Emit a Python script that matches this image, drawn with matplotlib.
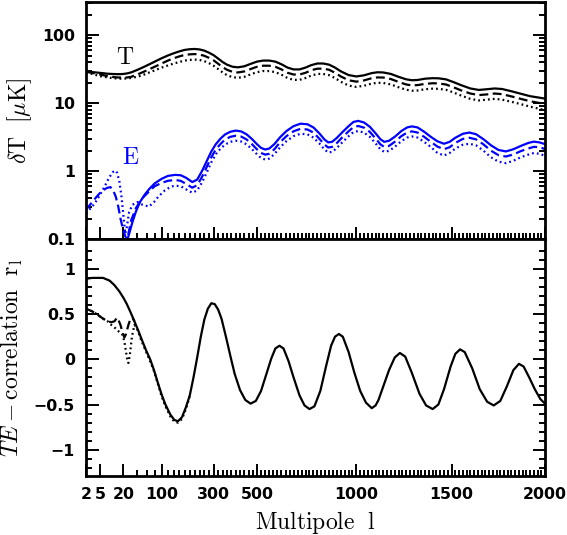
import numpy as np
import matplotlib
matplotlib.use('Agg')
import matplotlib.pyplot as plt

plt.rcParams['mathtext.fontset'] = 'cm'

# ---- data (multipole l, value) ----
# top panel: temperature (black), delta T in muK
T_l = [2, 3, 5, 8, 12, 16, 20, 25, 30, 40, 50, 60, 80, 100, 120, 140, 160, 180, 200, 220,
       240, 260, 280, 300, 320, 340, 360, 385, 410, 440, 470, 500, 530, 560, 590, 620, 650, 680,
       710, 740, 770, 800, 830, 860, 890, 920, 960, 1000, 1040, 1080, 1110, 1140, 1180, 1220, 1260,
       1290, 1320, 1360, 1400, 1430, 1470, 1510, 1550, 1600, 1645, 1690, 1730, 1770, 1820, 1870,
       1920, 1960, 2000]
T_solid = [29.5, 28.8, 28, 27.2, 26.9, 26.8, 27, 27.6, 28.5, 31, 33.5, 36, 41, 46, 50.5, 54.5, 58, 61, 62.5, 63,
           62, 59.5, 55.5, 51, 45.5, 40.5, 37, 34.5, 33.8, 35, 38, 41, 42.5, 42.5, 41, 37.5, 33.5, 31.5,
           31.5, 33.5, 36.5, 38.5, 38.5, 37, 33.5, 29.5, 26, 24.8, 25.8, 27.8, 28.6, 28.4, 27, 24.5, 22.5,
           21.8, 22, 23, 23.4, 23.3, 22.5, 20.5, 18.5, 16.5, 15.7, 16.1, 16.5, 16.2, 15, 13.8,
           12.7, 12.2, 11.7]
T_dash = [29, 28, 26.5, 25, 24.2, 23.9, 23.8, 24, 24.5, 26.5, 28.5, 30.5, 34.5, 38.5, 42.5, 46, 49, 51.5, 52.5, 53,
          52.1, 50.0, 46.6, 42.8, 38.2, 34.0, 31.1, 29.0, 28.4, 29.4, 31.9, 34.4, 35.7, 35.7, 34.4, 31.5, 28.1, 26.5,
          26.5, 28.1, 30.7, 32.3, 32.3, 31.1, 28.1, 24.8, 21.8, 20.8, 21.7, 23.4, 24.0, 23.9, 22.7, 20.6, 18.9,
          18.3, 18.5, 19.3, 19.7, 19.6, 18.9, 17.2, 15.5, 13.9, 13.2, 13.5, 13.9, 13.6, 12.6, 11.6,
          10.7, 10.2, 9.8]
T_dot = [28.5, 27, 25, 24, 23.3, 23, 23, 23.2, 23.6, 24.5, 25.8, 27.5, 30.5, 33.5, 36, 38.5, 40.5, 42.5, 43.5, 44,
         43.4, 41.7, 38.9, 35.7, 31.9, 28.4, 25.9, 24.2, 23.7, 24.5, 26.6, 28.7, 29.8, 29.8, 28.7, 26.3, 23.5, 22.1,
         22.1, 23.5, 25.6, 27.0, 27.0, 25.9, 23.5, 20.7, 18.2, 17.4, 18.1, 19.5, 20.0, 19.9, 18.9, 17.2, 15.8,
         15.3, 15.4, 16.1, 16.4, 16.3, 15.8, 14.4, 13.0, 11.6, 11.0, 11.3, 11.6, 11.3, 10.5, 9.7,
         8.9, 8.4, 7.9]

# top panel: E polarisation (blue), acoustic part from l = 145
E_l = [145, 165, 185, 210, 230, 250, 270, 290, 310, 330, 350, 375, 400, 425, 450, 475, 500, 520, 540, 560,
       585, 615, 645, 680, 715, 750, 780, 810, 835, 855, 875, 900, 930, 960, 985, 1010, 1040, 1070, 1100,
       1125, 1145, 1170, 1200, 1235, 1265, 1290, 1320, 1355, 1390, 1425, 1460, 1490, 1520, 1560, 1595,
       1630, 1670, 1710, 1750, 1790, 1830, 1870, 1910, 1940, 1970, 2000]
E_solid = [0.88, 0.87, 0.8, 0.69, 0.75, 1.0, 1.4, 1.95, 2.5, 3.0, 3.45, 3.8, 3.95, 3.85, 3.5, 3.0, 2.5, 2.2, 2.08, 2.15,
           2.5, 3.2, 3.9, 4.6, 5.0, 4.9, 4.4, 3.6, 2.95, 2.65, 2.7, 3.1, 3.8, 4.6, 5.3, 5.5, 5.2, 4.5, 3.6,
           2.95, 2.7, 2.8, 3.2, 3.9, 4.4, 4.56, 4.4, 3.8, 3.2, 2.75, 2.53, 2.7, 3.1, 3.55, 3.7,
           3.5, 2.95, 2.4, 2.05, 1.95, 2.1, 2.35, 2.6, 2.72, 2.65, 2.5]
E_dash = [0.74, 0.72, 0.65, 0.57, 0.62, 0.82, 1.15, 1.6, 2.1, 2.5, 2.9, 3.2, 3.32, 3.23, 2.94, 2.52, 2.1, 1.85, 1.75, 1.8,
          2.1, 2.7, 3.28, 3.86, 4.2, 4.1, 3.7, 3.0, 2.48, 2.23, 2.27, 2.6, 3.2, 3.86, 4.45, 4.62, 4.37, 3.78, 3.02,
          2.48, 2.27, 2.35, 2.7, 3.28, 3.7, 3.85, 3.7, 3.2, 2.7, 2.3, 2.1, 2.25, 2.6, 2.98, 3.1,
          2.94, 2.48, 2.0, 1.72, 1.64, 1.76, 1.97, 2.15, 2.28, 2.25, 2.12]
E_dot = [0.61, 0.6, 0.54, 0.48, 0.52, 0.68, 0.95, 1.35, 1.78, 2.13, 2.45, 2.7, 2.8, 2.73, 2.49, 2.13, 1.78, 1.56, 1.48, 1.53,
         1.78, 2.27, 2.77, 3.27, 3.55, 3.48, 3.12, 2.56, 2.1, 1.88, 1.92, 2.2, 2.7, 3.27, 3.76, 3.9, 3.69, 3.2, 2.56,
         2.1, 1.92, 1.99, 2.27, 2.77, 3.12, 3.24, 3.12, 2.7, 2.27, 1.85, 1.7, 1.85, 2.15, 2.45, 2.53,
         2.4, 2.0, 1.6, 1.38, 1.31, 1.42, 1.6, 1.75, 1.85, 1.8, 1.68]
# low-l parts of the E curves (reionisation bump), ending at l = 145
E_solid_low_l = [25, 28, 32, 38, 45, 55, 65, 80, 100, 120, 145]
E_solid_low = [0.1, 0.13, 0.18, 0.26, 0.35, 0.45, 0.54, 0.66, 0.77, 0.85, 0.88]
E_dash_low_l = [2, 3, 4, 5, 6, 7, 8, 9.5, 11, 13, 15, 17, 19, 20, 22, 24, 26, 30, 38, 50, 65, 80, 100,
                120, 145]
E_dash_low = [0.27, 0.35, 0.42, 0.48, 0.52, 0.55, 0.57, 0.58, 0.53, 0.42, 0.3, 0.2, 0.15, 0.137, 0.11, 0.1,
              0.12, 0.19, 0.29, 0.4, 0.5, 0.6, 0.67, 0.72, 0.74]
E_dot_low_l = [2, 3, 4, 5, 6, 7, 8, 9, 10, 11, 12.5, 14, 16, 18, 20, 22, 24, 27, 32, 40, 50, 65, 78,
               90, 110, 130, 145]
E_dot_low = [0.24, 0.3, 0.37, 0.45, 0.54, 0.63, 0.73, 0.82, 0.9, 0.97, 1.02, 0.95, 0.7, 0.42, 0.22, 0.12,
             0.15, 0.25, 0.32, 0.35, 0.32, 0.3, 0.35, 0.42, 0.52, 0.59, 0.61]

# bottom panel: TE correlation coefficient r_l
r_l = [2, 3, 4, 6, 9, 12, 16, 20, 24, 29, 35, 43, 50, 58, 68, 78, 88, 100, 112, 128, 142, 155, 170, 185,
       200, 215, 230, 245, 260, 275, 290, 305, 320, 335, 355, 375, 395, 420, 445, 470, 495, 520, 545, 570,
       590, 610, 630, 655, 680, 710, 735, 760, 785, 815, 845, 870, 890, 910, 930, 960, 990, 1020, 1050,
       1080, 1100, 1115, 1140, 1170, 1200, 1227, 1255, 1290, 1330, 1365, 1400, 1430, 1460, 1495, 1520,
       1545, 1570, 1610, 1650, 1690, 1725, 1760, 1795, 1830, 1860, 1885, 1915, 1945, 1975, 2000]
r_solid = [0.89, 0.9, 0.9, 0.9, 0.87, 0.82, 0.75, 0.68, 0.61, 0.52, 0.42, 0.3, 0.2, 0.1, 0.0, -0.12, -0.25, -0.39,
           -0.5, -0.61, -0.67, -0.685, -0.64, -0.53, -0.4, -0.2, 0.02, 0.25, 0.44, 0.56, 0.62, 0.61, 0.55,
           0.45, 0.25, 0.04, -0.16, -0.34, -0.45, -0.49, -0.46, -0.35, -0.17, 0.01, 0.12, 0.15, 0.12, -0.02,
           -0.2, -0.4, -0.51, -0.55, -0.52, -0.35, -0.07, 0.15, 0.25, 0.28, 0.25, 0.08, -0.15, -0.35, -0.48,
           -0.54, -0.51, -0.45, -0.3, -0.12, 0.02, 0.07, 0.03, -0.15, -0.38, -0.51, -0.55, -0.5, -0.33, -0.08,
           0.06, 0.11, 0.08, -0.1, -0.33, -0.47, -0.51, -0.46, -0.3, -0.12, -0.05, -0.08, -0.2, -0.33, -0.44,
           -0.49]
r_dash_l = [2, 3, 4, 6, 8, 10, 12, 14, 15, 17, 19, 21, 23, 26, 29, 32, 35]
r_dash = [0.56, 0.53, 0.5, 0.45, 0.42, 0.41, 0.42, 0.46, 0.44, 0.38, 0.3, 0.24, 0.28, 0.38, 0.45, 0.46, 0.42]
r_dot_l = [2, 3, 4, 6, 8, 10, 13, 16, 19, 21, 23, 25, 26, 28, 31, 35, 40, 47, 55, 65, 78, 88, 100, 112,
           128, 142, 155, 170, 185, 200]
r_dot = [0.56, 0.53, 0.5, 0.45, 0.42, 0.38, 0.34, 0.3, 0.27, 0.2, 0.08, -0.03, -0.04, 0.05, 0.25, 0.38, 0.33,
         0.22, 0.12, 0.01, -0.13, -0.26, -0.41, -0.52, -0.63, -0.69, -0.7, -0.66, -0.55, -0.41]

x_major = [2, 5, 20, 100, 300, 500, 1000, 1500, 2000]
x_minor = [l for l in range(40, 2000, 20) if l not in x_major]
r_ticks = [-1, -0.5, 0, 0.5, 1]
r_labels = ['\u22121', '\u22120.5', '0', '0.5', '1']
dT_ticks = [0.1, 1, 10, 100]
dT_labels = ['0.1', '1', '10', '100']


# mixed log / linear multipole axis
def fwd(l):
    l = np.maximum(np.asarray(l, dtype=float), 1e-3)
    return np.log(l) + 0.012 * l

_grid = np.logspace(-3, 4, 20000)


def inv(x):
    return np.interp(x, fwd(_grid), _grid)


tickfont = dict(family='DejaVu Sans', weight='bold', size=11.3)
blue = '#0000ff'
lw = 1.6
dash = (0, (4, 2))
dot = (0, (0.8, 1.4))

fig = plt.figure(figsize=(5.67, 5.35), dpi=100)
ax1 = fig.add_axes([86 / 567, 1 - 239 / 535, 459 / 567, 237 / 535])
ax2 = fig.add_axes([86 / 567, 1 - 476 / 535, 459 / 567, 237 / 535])

ax1.plot(T_l, T_solid, color='k', lw=lw)
ax1.plot(T_l, T_dash, color='k', lw=lw, linestyle=dash)
ax1.plot(T_l, T_dot, color='k', lw=lw, linestyle=dot)
ax1.plot(E_solid_low_l + E_l[1:], E_solid_low + E_solid[1:], color=blue, lw=lw)
ax1.plot(E_dash_low_l + E_l[1:], E_dash_low + E_dash[1:], color=blue, lw=lw, linestyle=dash)
ax1.plot(E_dot_low_l + E_l[1:], E_dot_low + E_dot[1:], color=blue, lw=lw, linestyle=dot)
ax1.set_yscale('log')
ax1.set_ylim(0.1, 310)
ax1.text(22, 48, r'$\mathrm{T}$', fontsize=17, ha='center', va='center')
ax1.text(28.5, 1.6, r'$\mathrm{E}$', fontsize=17, color=blue, ha='center', va='center')
ax1.set_ylabel(r'$\delta\mathrm{T}\ \ [\mu\mathrm{K}]$', fontsize=17, labelpad=6)

ax2.plot(r_l, r_solid, color='k', lw=lw)
ax2.plot(r_dash_l, r_dash, color='k', lw=lw, linestyle=dash)
ax2.plot(r_dot_l, r_dot, color='k', lw=lw, linestyle=dot)
ax2.set_ylim(-1.29, 1.33)
ax2.set_ylabel(r'$TE-\mathrm{correlation}\ \ \mathrm{r_l}$', fontsize=17, labelpad=6)
ax2.set_xlabel(r'$\mathrm{Multipole\ \ l}$', fontsize=17, labelpad=5)

for ax in (ax1, ax2):
    ax.set_xscale('function', functions=(fwd, inv))
    ax.set_xlim(2, 2000)
    ax.set_xticks(x_major)
    ax.set_xticks(x_minor, minor=True)
    ax.tick_params(which='both', direction='in', top=False, right=True, width=1.4)
    ax.tick_params(which='major', length=9, pad=8)
    ax.tick_params(which='minor', length=4.5)
    for s in ax.spines.values():
        s.set_linewidth(2)

ax1.set_xticklabels([])
ax1.set_yticks(dT_ticks)
ax1.set_yticklabels(dT_labels, fontdict=tickfont)
ax2.set_xticklabels([str(v) for v in x_major], fontdict=tickfont)
ax2.set_yticks(r_ticks)
ax2.set_yticklabels(r_labels, fontdict=tickfont)
ax2.set_yticks(np.arange(-1.2, 1.25, 0.1), minor=True)

fig.savefig('out.png', dpi=100)
